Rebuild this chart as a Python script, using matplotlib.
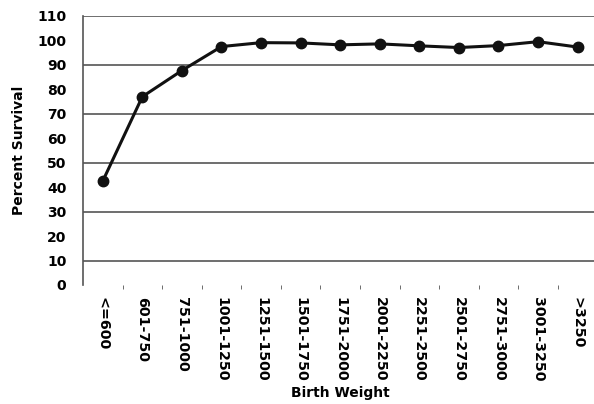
import matplotlib.pyplot as plt
import numpy as np

categories = ['<=600', '601-750', '751-1000', '1001-1250', '1251-1500', '1501-1750',
              '1751-2000', '2001-2250', '2251-2500', '2501-2750', '2751-3000',
              '3001-3250', '>3250']
survival = [42.5, 77, 87.7, 97.5, 99.1, 99.0, 98.2, 98.6, 97.8, 97.1, 97.9, 99.5, 97.3]
yticks = list(range(0, 111, 10))
gridlines = [10, 30, 50, 70, 90, 110]

fig = plt.figure(figsize=(5.94, 4.04), dpi=100)
ax = fig.add_axes([0.1397, 0.2946, 0.866, 0.6658])

x = np.arange(len(categories))
ax.plot(x, survival, color='#111111', linewidth=2.2, marker='o', markersize=7.5)

ax.set_xlim(-0.5, len(categories) - 0.5)
ax.set_ylim(0, 110)
ax.set_yticks(yticks)
ax.set_yticklabels([str(t) for t in yticks], fontsize=10, fontweight='bold')
for t in gridlines:
    ax.axhline(t, color='#555555', linewidth=1.2, zorder=0)

# category labels, ticks only at the boundaries
ax.set_xticks(x)
ax.set_xticklabels(categories, rotation=270, fontsize=10.3, fontweight='bold')
ax.tick_params(axis='x', which='major', length=0, pad=9)
ax.set_xticks(np.arange(0.5, len(categories) - 0.5, 1), minor=True)
ax.tick_params(axis='x', which='minor', length=3, color='#555555', direction='out', pad=0)
ax.tick_params(axis='y', length=0, pad=12)

for s in ['top', 'right', 'bottom']:
    ax.spines[s].set_visible(False)
ax.spines['left'].set_color('#555555')
ax.spines['left'].set_linewidth(1.2)

ax.set_ylabel('Percent Survival', fontsize=10, fontweight='bold', labelpad=8)
ax.set_xlabel('Birth Weight', fontsize=10, fontweight='bold', labelpad=3)

fig.savefig('out.png', dpi=100)
